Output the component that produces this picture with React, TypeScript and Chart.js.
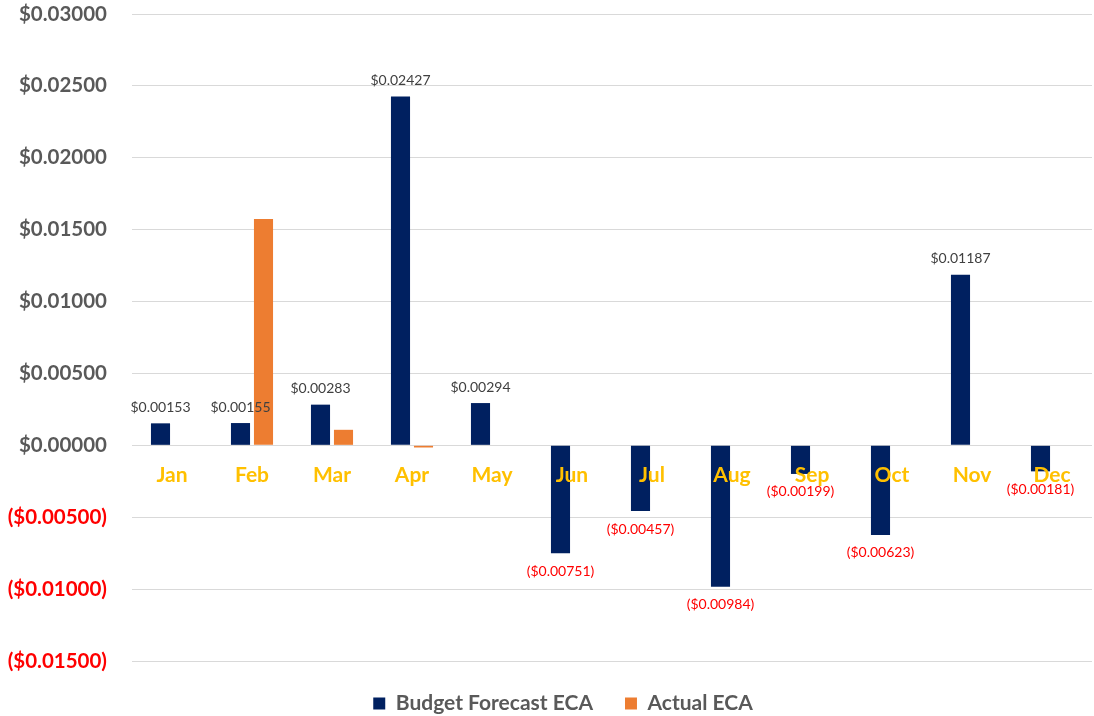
import React, { useEffect, useRef } from "react";
import { Chart, registerables } from "chart.js";

Chart.register(...registerables);

const months = ["Jan", "Feb", "Mar", "Apr", "May", "Jun", "Jul", "Aug", "Sep", "Oct", "Nov", "Dec"];
const budgetForecast = [0.00153, 0.00155, 0.00283, 0.02427, 0.00294, -0.00751, -0.00457, -0.00984, -0.00199, -0.00623, 0.01187, -0.00181];
const actual = [null, 0.01575, 0.00108, -0.00015, null, null, null, null, null, null, null, null];
const yMin = -0.015;
const yMax = 0.03;
const yStep = 0.005;

const BLUE = "#002060";
const ORANGE = "#ED7D31";
const GRAY = "#595959";
const RED = "#FF0000";
const GOLD = "#FFC000";
const FONT = "Lato";

function fmt(v: number): string {
  const a = Math.abs(v).toFixed(5);
  if (v < -1e-12) return "($" + a + ")";
  return "$" + a;
}

// Category labels drawn next to the zero line, above the bars (like Excel "next to axis")
const monthLabelPlugin = {
  id: "monthLabels",
  afterLayout(chart: any) {
    if (chart.legend) chart.legend.left = 34;
  },
  afterDatasetsDraw(chart: any) {
    const ctx = chart.ctx;
    const xs = chart.scales.x;
    const ys = chart.scales.y;
    const y0 = ys.getPixelForValue(0);
    ctx.save();
    ctx.font = `bold 21px ${FONT}`;
    ctx.fillStyle = GOLD;
    ctx.textAlign = "center";
    ctx.textBaseline = "middle";
    months.forEach((m, i) => {
      ctx.fillText(m, xs.getPixelForValue(i), y0 + 30);
    });
    ctx.restore();
  },
};

const dataLabelPlugin = {
  id: "dataLabels",
  afterDatasetsDraw(chart: any) {
    const ctx = chart.ctx;
    const meta = chart.getDatasetMeta(0);
    ctx.save();
    ctx.font = `14px ${FONT}`;
    ctx.textAlign = "center";
    ctx.textBaseline = "middle";
    meta.data.forEach((el: any, i: number) => {
      const v = budgetForecast[i];
      if (v == null) return;
      if (v >= 0) {
        ctx.fillStyle = "#404040";
        ctx.fillText(fmt(v), el.x, el.y - 16);
      } else {
        ctx.fillStyle = RED;
        ctx.fillText(fmt(v), el.x, el.y + 18);
      }
    });
    ctx.restore();
  },
};

export default function App() {
  const ref = useRef<HTMLCanvasElement>(null);
  useEffect(() => {
    if (!ref.current) return;
    const chart = new Chart(ref.current, {
      type: "bar",
      data: {
        labels: months,
        datasets: [
          {
            label: "Budget Forecast ECA",
            data: budgetForecast,
            backgroundColor: BLUE,
            categoryPercentage: 0.575,
            barPercentage: 0.83,
          },
          {
            label: "Actual ECA",
            data: actual as any,
            backgroundColor: ORANGE,
            categoryPercentage: 0.575,
            barPercentage: 0.83,
          },
        ],
      },
      options: {
        animation: false,
        responsive: true,
        maintainAspectRatio: false,
        layout: { padding: { top: 14, right: 2, left: 0, bottom: -8 } },
        plugins: {
          legend: {
            position: "bottom",
            labels: {
              boxWidth: 12,
              boxHeight: 12,
              padding: 32,
              color: GRAY,
              font: { family: FONT, size: 21, weight: "bold" },
            },
          },
          tooltip: { enabled: false },
        },
        scales: {
          x: {
            type: "category",
            display: false,
            grid: { display: false },
          },
          y: {
            min: yMin,
            max: yMax,
            grid: { color: "#D9D9D9", drawTicks: false },
            border: { display: false },
            afterFit: (scale: any) => {
              scale.width = 132;
              scale.paddingTop = 12;
              scale.paddingBottom = 12;
            },
            ticks: {
              stepSize: yStep,
              padding: 25,
              font: { family: FONT, size: 20.5, weight: "bold" },
              color: (c: any) => (c.tick && c.tick.value < -1e-12 ? RED : GRAY),
              callback: (v: any) => fmt(Number(v)),
            },
          },
        },
      },
      plugins: [monthLabelPlugin, dataLabelPlugin],
    });
    return () => chart.destroy();
  }, []);
  return (
    <div style={{ position: "fixed", left: 0, top: 0, width: 1094, height: 716, background: "#fff" }}>
      <canvas ref={ref} />
    </div>
  );
}
